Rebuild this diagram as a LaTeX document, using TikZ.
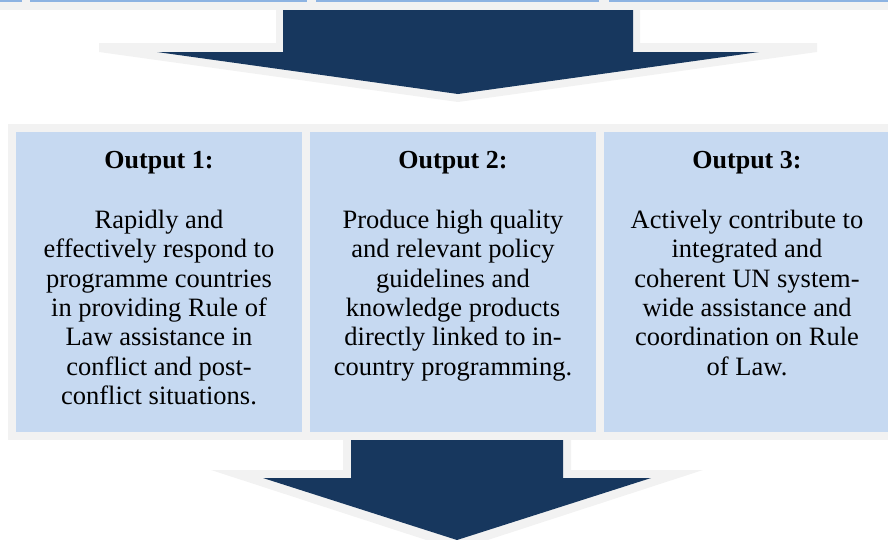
\documentclass[tikz,border=0pt]{standalone}
\usepackage{fontspec}
\setmainfont{Liberation Serif}
\usetikzlibrary{matrix,backgrounds}
\definecolor{boxblue}{HTML}{C6D9F1}
\definecolor{topblue}{HTML}{8DB3E2}
\definecolor{bandgray}{HTML}{F2F2F2}
\definecolor{arrowblue}{HTML}{17375E}

\begin{document}
\begin{tikzpicture}[x=1pt,y=-1pt,
outputs/.style={matrix of nodes,inner sep=0pt,outer sep=0pt,nodes={fill=boxblue, minimum width=286pt,
    minimum height=300pt, inner sep=0pt, anchor=center}, column sep=8pt, nodes in empty cells},
title/.style={font=\fontsize{26}{29.3}\selectfont\bfseries, anchor=base, inner sep=0pt},
body/.style={font=\fontsize{26.5}{29.3}\selectfont, align=center, anchor=north, inner sep=0pt}]
\useasboundingbox (0,0) rectangle (888,539);
\clip (0,0) rectangle (888,539);
% row above, only its lower edge shows
\fill[bandgray] (0,-20) rectangle (888,10);
\fill[topblue] (-5,-20) rectangle (22,1.7);
\fill[topblue] (30,-20) rectangle (307,1.7);
\fill[topblue] (316,-20) rectangle (599,1.7);
\fill[topblue] (609,-20) rectangle (895,1.7);
% arrow into the outputs
\fill[bandgray] (276,10) -- (276,43) -- (99,43) -- (99,52) -- (458,102) -- (817,52)
  -- (817,43) -- (640,43) -- (640,10) -- cycle;
\fill[arrowblue] (283,10) -- (283,52) -- (157,52) -- (458,94) -- (759,52)
  -- (633,52) -- (633,10) -- cycle;
\matrix[outputs, anchor=north west] (out) at (16,132) { & & \\};
\begin{scope}[on background layer]
\fill[bandgray] ([shift={(-8,-8)}]out-1-1.north west) rectangle ([shift={(8,8)}]out-1-3.south east);
\end{scope}
\node[title] (t1) at ([yshift=-36pt]out-1-1.north) {Output 1:};
\node[title] (t2) at ([yshift=-36pt]out-1-2.north) {Output 2:};
\node[title] (t3) at ([yshift=-36pt]out-1-3.north) {Output 3:};
\node[body] (b1) at ([yshift=-78pt]out-1-1.north) {Rapidly and\\effectively respond to\\programme countries\\in providing Rule of\\Law assistance in\\conflict and post-\\conflict situations.};
\node[body] (b2) at ([yshift=-78pt]out-1-2.north) {Produce high quality\\and relevant policy\\guidelines and\\knowledge products\\directly linked to in-\\country programming.};
\node[body] (b3) at ([yshift=-78pt]out-1-3.north) {Actively contribute to\\integrated and\\coherent UN system-\\wide assistance and\\coordination on Rule\\of Law.};
% arrow out of the outputs
\fill[bandgray] (343,440) -- (343,470) -- (211,470) -- (457,550) -- (703,470)
  -- (571,470) -- (571,440) -- cycle;
\fill[arrowblue] (351,440) -- (351,478) -- (263,478) -- (457,540) -- (651,478)
  -- (563,478) -- (563,440) -- cycle;
\end{tikzpicture}
\end{document}
